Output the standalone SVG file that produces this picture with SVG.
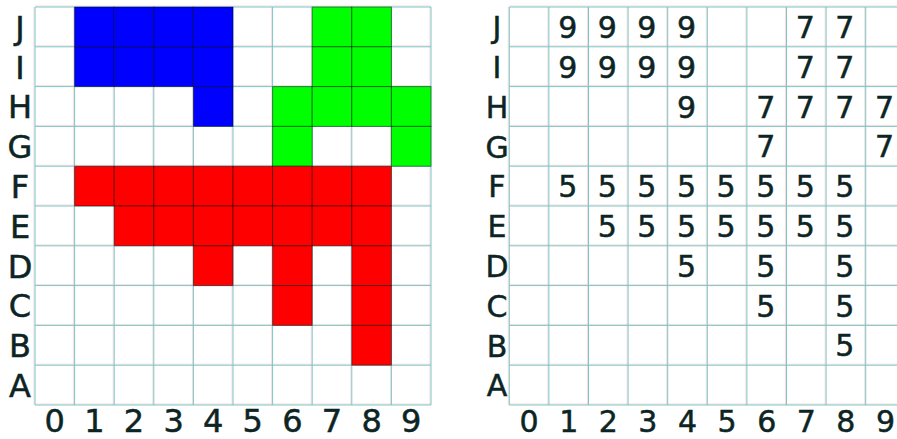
<svg xmlns="http://www.w3.org/2000/svg" width="897" height="439" viewBox="0 0 897 439">
<style>
.lbl{font-family:"DejaVu Sans",Verdana,sans-serif;font-size:32px;fill:#0d2424;stroke:#0d2424;stroke-width:0.5;text-anchor:middle}
.rl{font-size:30px}
.num{font-family:"DejaVu Sans",sans-serif;font-size:30px;fill:#0d2424;stroke:#0d2424;stroke-width:0.5;text-anchor:middle}
.teal{fill:none;stroke:#7cc6c6;stroke-width:1}
.pink{fill:none;stroke:#f2b4b4;stroke-width:1;stroke-opacity:0.45}
.b{fill:#0000ff}.g{fill:#00ff00}.r{fill:#ff0000}
.cell{stroke:#000;stroke-opacity:0.45;stroke-width:1}
</style>
<rect width="897" height="439" fill="#fff"/>
<g id="left-grid">
<g id="left-lines">
<path class="pink" d="M34 7V405M73.6 7V405M113.2 7V405M152.8 7V405M192.4 7V405M232 7V405M271.6 7V405M311.2 7V405M350.8 7V405M390.4 7V405M430 7V405M35 6H431M35 45.8H431M35 85.6H431M35 125.4H431M35 165.2H431M35 205H431M35 244.8H431M35 284.6H431M35 324.4H431M35 364.2H431M35 404H431"/>
<path class="teal" d="M35 7V405M74.6 7V405M114.2 7V405M153.8 7V405M193.4 7V405M233 7V405M272.6 7V405M312.2 7V405M351.8 7V405M391.4 7V405M431 7V405M35 7H431M35 46.8H431M35 86.6H431M35 126.4H431M35 166.2H431M35 206H431M35 245.8H431M35 285.6H431M35 325.4H431M35 365.2H431M35 405H431"/>
</g>
<g id="blue-region">
<rect class="b cell" x="74.6" y="7" width="39.6" height="39.8"/>
<rect class="b cell" x="114.2" y="7" width="39.6" height="39.8"/>
<rect class="b cell" x="153.8" y="7" width="39.6" height="39.8"/>
<rect class="b cell" x="193.4" y="7" width="39.6" height="39.8"/>
<rect class="b cell" x="74.6" y="46.8" width="39.6" height="39.8"/>
<rect class="b cell" x="114.2" y="46.8" width="39.6" height="39.8"/>
<rect class="b cell" x="153.8" y="46.8" width="39.6" height="39.8"/>
<rect class="b cell" x="193.4" y="46.8" width="39.6" height="39.8"/>
<rect class="b cell" x="193.4" y="86.6" width="39.6" height="39.8"/>
</g>
<g id="green-region">
<rect class="g cell" x="312.2" y="7" width="39.6" height="39.8"/>
<rect class="g cell" x="351.8" y="7" width="39.6" height="39.8"/>
<rect class="g cell" x="312.2" y="46.8" width="39.6" height="39.8"/>
<rect class="g cell" x="351.8" y="46.8" width="39.6" height="39.8"/>
<rect class="g cell" x="272.6" y="86.6" width="39.6" height="39.8"/>
<rect class="g cell" x="312.2" y="86.6" width="39.6" height="39.8"/>
<rect class="g cell" x="351.8" y="86.6" width="39.6" height="39.8"/>
<rect class="g cell" x="391.4" y="86.6" width="39.6" height="39.8"/>
<rect class="g cell" x="272.6" y="126.4" width="39.6" height="39.8"/>
<rect class="g cell" x="391.4" y="126.4" width="39.6" height="39.8"/>
</g>
<g id="red-region">
<rect class="r cell" x="74.6" y="166.2" width="39.6" height="39.8"/>
<rect class="r cell" x="114.2" y="166.2" width="39.6" height="39.8"/>
<rect class="r cell" x="153.8" y="166.2" width="39.6" height="39.8"/>
<rect class="r cell" x="193.4" y="166.2" width="39.6" height="39.8"/>
<rect class="r cell" x="233" y="166.2" width="39.6" height="39.8"/>
<rect class="r cell" x="272.6" y="166.2" width="39.6" height="39.8"/>
<rect class="r cell" x="312.2" y="166.2" width="39.6" height="39.8"/>
<rect class="r cell" x="351.8" y="166.2" width="39.6" height="39.8"/>
<rect class="r cell" x="114.2" y="206" width="39.6" height="39.8"/>
<rect class="r cell" x="153.8" y="206" width="39.6" height="39.8"/>
<rect class="r cell" x="193.4" y="206" width="39.6" height="39.8"/>
<rect class="r cell" x="233" y="206" width="39.6" height="39.8"/>
<rect class="r cell" x="272.6" y="206" width="39.6" height="39.8"/>
<rect class="r cell" x="312.2" y="206" width="39.6" height="39.8"/>
<rect class="r cell" x="351.8" y="206" width="39.6" height="39.8"/>
<rect class="r cell" x="193.4" y="245.8" width="39.6" height="39.8"/>
<rect class="r cell" x="272.6" y="245.8" width="39.6" height="39.8"/>
<rect class="r cell" x="351.8" y="245.8" width="39.6" height="39.8"/>
<rect class="r cell" x="272.6" y="285.6" width="39.6" height="39.8"/>
<rect class="r cell" x="351.8" y="285.6" width="39.6" height="39.8"/>
<rect class="r cell" x="351.8" y="325.4" width="39.6" height="39.8"/>
</g>
<g id="left-row-labels" class="lbl">
<text x="20" y="38.7">J</text>
<text x="20" y="78.5">I</text>
<text x="20" y="118.3">H</text>
<text x="20" y="158.1">G</text>
<text x="20" y="197.9">F</text>
<text x="20" y="237.7">E</text>
<text x="20" y="277.5">D</text>
<text x="20" y="317.3">C</text>
<text x="20" y="357.1">B</text>
<text x="20" y="396.9">A</text>
</g>
<g id="left-col-labels" class="lbl">
<text x="54.8" y="432">0</text>
<text x="94.4" y="432">1</text>
<text x="134" y="432">2</text>
<text x="173.6" y="432">3</text>
<text x="213.2" y="432">4</text>
<text x="252.8" y="432">5</text>
<text x="292.4" y="432">6</text>
<text x="332" y="432">7</text>
<text x="371.6" y="432">8</text>
<text x="411.2" y="432">9</text>
</g>
</g>
<g id="right-grid">
<g id="right-lines">
<path class="pink" d="M508.3 7V405M547.9 7V405M587.5 7V405M627.1 7V405M666.7 7V405M706.3 7V405M745.9 7V405M785.5 7V405M825.1 7V405M864.7 7V405M509.3 6H897M509.3 45.8H897M509.3 85.6H897M509.3 125.4H897M509.3 165.2H897M509.3 205H897M509.3 244.8H897M509.3 284.6H897M509.3 324.4H897M509.3 364.2H897M509.3 404H897"/>
<path class="teal" d="M509.3 7V405M548.9 7V405M588.5 7V405M628.1 7V405M667.7 7V405M707.3 7V405M746.9 7V405M786.5 7V405M826.1 7V405M865.7 7V405M509.3 7H897M509.3 46.8H897M509.3 86.6H897M509.3 126.4H897M509.3 166.2H897M509.3 206H897M509.3 245.8H897M509.3 285.6H897M509.3 325.4H897M509.3 365.2H897M509.3 405H897"/>
</g>
<g id="right-values" class="num">
<text x="567.7" y="38">9</text><text x="607.3" y="38">9</text><text x="646.9" y="38">9</text><text x="686.5" y="38">9</text><text x="805.3" y="38">7</text><text x="844.9" y="38">7</text>
<text x="567.7" y="77.8">9</text><text x="607.3" y="77.8">9</text><text x="646.9" y="77.8">9</text><text x="686.5" y="77.8">9</text><text x="805.3" y="77.8">7</text><text x="844.9" y="77.8">7</text>
<text x="686.5" y="117.6">9</text><text x="765.7" y="117.6">7</text><text x="805.3" y="117.6">7</text><text x="844.9" y="117.6">7</text><text x="884.5" y="117.6">7</text>
<text x="765.7" y="157.4">7</text><text x="884.5" y="157.4">7</text>
<text x="567.7" y="197.2">5</text><text x="607.3" y="197.2">5</text><text x="646.9" y="197.2">5</text><text x="686.5" y="197.2">5</text><text x="726.1" y="197.2">5</text><text x="765.7" y="197.2">5</text><text x="805.3" y="197.2">5</text><text x="844.9" y="197.2">5</text>
<text x="607.3" y="237">5</text><text x="646.9" y="237">5</text><text x="686.5" y="237">5</text><text x="726.1" y="237">5</text><text x="765.7" y="237">5</text><text x="805.3" y="237">5</text><text x="844.9" y="237">5</text>
<text x="686.5" y="276.8">5</text><text x="765.7" y="276.8">5</text><text x="844.9" y="276.8">5</text>
<text x="765.7" y="316.6">5</text><text x="844.9" y="316.6">5</text>
<text x="844.9" y="356.4">5</text>
</g>
<g id="right-row-labels" class="lbl rl">
<text x="497" y="38.2">J</text>
<text x="497" y="78">I</text>
<text x="497" y="117.8">H</text>
<text x="497" y="157.6">G</text>
<text x="497" y="197.4">F</text>
<text x="497" y="237.2">E</text>
<text x="497" y="277">D</text>
<text x="497" y="316.8">C</text>
<text x="497" y="356.6">B</text>
<text x="497" y="396.4">A</text>
</g>
<g id="right-col-labels" class="lbl rl">
<text x="529.1" y="432">0</text>
<text x="568.7" y="432">1</text>
<text x="608.3" y="432">2</text>
<text x="647.9" y="432">3</text>
<text x="687.5" y="432">4</text>
<text x="727.1" y="432">5</text>
<text x="766.7" y="432">6</text>
<text x="806.3" y="432">7</text>
<text x="845.9" y="432">8</text>
<text x="885.5" y="432">9</text>
</g>
</g>
</svg>
